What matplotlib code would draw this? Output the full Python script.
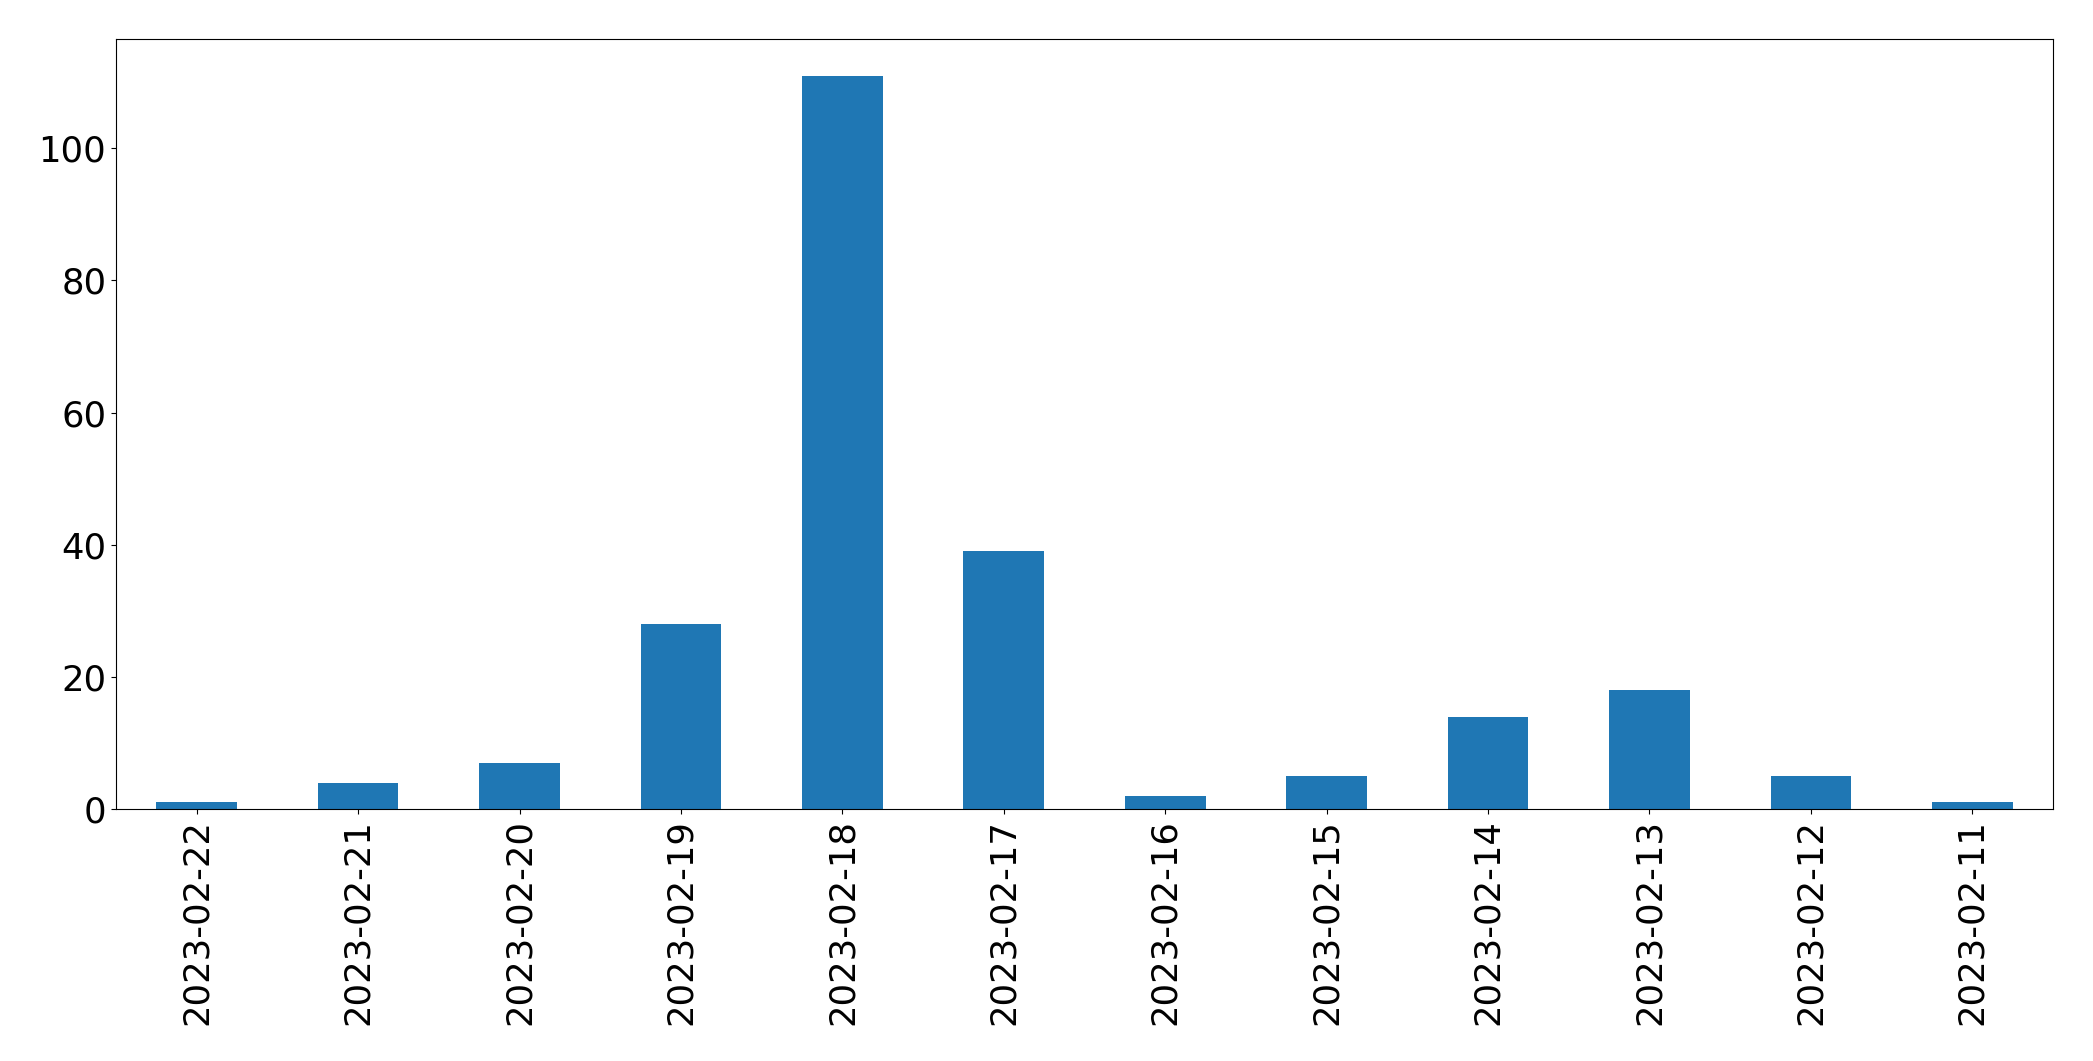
import matplotlib
matplotlib.use('Agg')
import matplotlib.pyplot as plt
import pandas as pd

# Counts per day (newest first, as in the original)
dates = ['2023-02-22', '2023-02-21', '2023-02-20', '2023-02-19', '2023-02-18', '2023-02-17',
         '2023-02-16', '2023-02-15', '2023-02-14', '2023-02-13', '2023-02-12', '2023-02-11']
counts = [1, 4, 7, 28, 111, 39, 2, 5, 14, 18, 5, 1]

s = pd.Series(counts, index=dates)

fig, ax = plt.subplots(figsize=(20.93, 10.61), dpi=100)
s.plot(kind='bar', ax=ax, color='#1f77b4')
ax.tick_params(axis='both', labelsize=25.5)
fig.subplots_adjust(left=116 / 2093, right=2053 / 2093, top=1 - 39 / 1061, bottom=1 - 809 / 1061)
fig.savefig('out.png', dpi=100)
